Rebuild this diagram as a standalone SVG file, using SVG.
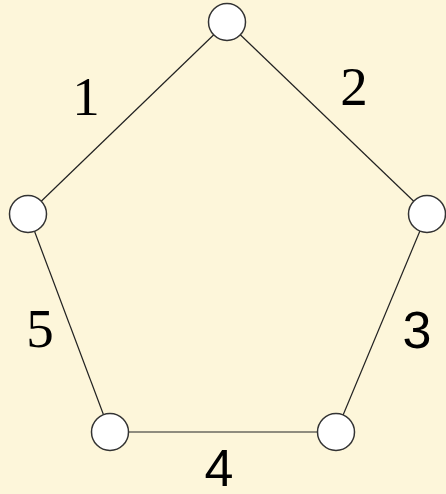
<svg xmlns="http://www.w3.org/2000/svg" width="446" height="494" viewBox="0 0 446 494">
<style>
.n{fill:#fff;stroke:#333;stroke-width:1.5}
.e{stroke:#222;stroke-width:1.2;fill:none}
.s{font-family:"Liberation Serif",serif;font-size:55px;fill:#000;text-anchor:middle}
.ss{font-family:"Liberation Sans",sans-serif;font-size:52px;fill:#000;text-anchor:middle}
</style>
<rect width="446" height="494" fill="#fdf6da"/>
<g id="edges">
<line class="e" x1="227" y1="22" x2="28" y2="214"/>
<line class="e" x1="227" y1="22" x2="427" y2="214"/>
<line class="e" x1="427" y1="214" x2="336" y2="432"/>
<line class="e" x1="336" y1="432" x2="110" y2="432"/>
<line class="e" x1="110" y1="432" x2="28" y2="214"/>
</g>
<g id="labels">
<text class="s" x="86" y="115">1</text>
<text class="s" x="354" y="105">2</text>
<text class="ss" x="417" y="348">3</text>
<text class="ss" x="219" y="486">4</text>
<text class="s" x="40" y="347">5</text>
</g>
<g id="n1"><circle class="n" cx="227" cy="22" r="18.5"/></g>
<g id="n2"><circle class="n" cx="427" cy="214" r="18.5"/></g>
<g id="n3"><circle class="n" cx="336" cy="432" r="18.5"/></g>
<g id="n4"><circle class="n" cx="110" cy="432" r="18.5"/></g>
<g id="n5"><circle class="n" cx="28" cy="214" r="18.5"/></g>
</svg>
